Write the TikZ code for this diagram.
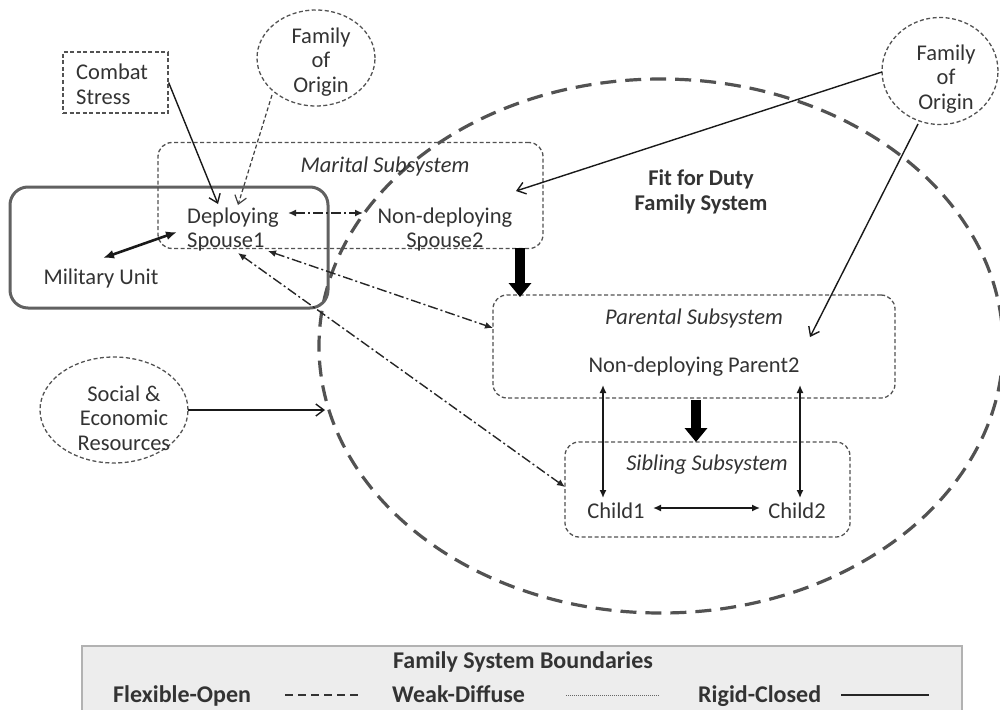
\documentclass[tikz,border=0pt]{standalone}
\usepackage{fontspec}
\setmainfont{Carlito}
\usetikzlibrary{arrows.meta,shapes.geometric}
\begin{document}
\begin{tikzpicture}[x=1pt,y=-1pt,
  txt/.style={font=\fontsize{22.5}{24.5}\selectfont, align=center, inner sep=0pt, text=black!80},
  itxt/.style={txt, font=\fontsize{22.5}{24.5}\selectfont\itshape},
  btxt/.style={txt, font=\fontsize{22.5}{24.5}\selectfont\bfseries},
  legtxt/.style={font=\fontsize{24}{26}\selectfont\bfseries, inner sep=0pt, text=black!80},
  weak/.style={draw=black!68, line width=1.3pt, dash pattern=on 4pt off 2.5pt},
  subsys/.style={weak, rectangle, rounded corners=14pt, inner sep=0pt},
  bubble/.style={weak, ellipse, inner sep=0pt},
  rigid/.style={draw=black!62, line width=3pt, rectangle, rounded corners=18pt, inner sep=0pt},
  flexible/.style={draw=black!68, line width=3.2pt, dash pattern=on 16pt off 9pt},
  dashdot/.style={draw=black!85, line width=1.4pt, dash pattern=on 10pt off 3pt on 2pt off 3pt,
     {Latex[length=8pt,width=7pt]}-{Latex[length=8pt,width=7pt]}},
  twoway/.style={draw=black!90, line width=1.5pt, {Latex[length=8pt,width=7pt]}-{Latex[length=8pt,width=7pt]}},
  thin/.style={draw=black!90, line width=1.4pt, -{Straight Barb[length=8pt,width=12pt]}},
  thinweak/.style={draw=black!75, line width=1.2pt, dash pattern=on 4pt off 2.5pt, -{Straight Barb[length=8pt,width=12pt]}},
  block/.style={draw=black, line width=10pt, -{Triangle[length=14pt,width=22pt]}},
]
\useasboundingbox (0,0) rectangle (1000,709);

% outer flexible boundary
\node[ellipse, flexible, minimum width=684pt, minimum height=534pt, inner sep=0pt] (family) at (661,346) {};
\node[btxt] (fit) at (701,192) {Fit for Duty\\Family System};

% boxes and bubbles
\node[weak, rectangle, minimum width=105pt, minimum height=61pt, inner sep=0pt] (combat) at (115.5,82.5) {};
\node[txt, align=left, anchor=west] (combattxt) at (76,84.5) {Combat\\Stress};

\node[bubble, minimum width=118pt, minimum height=96pt] (fooL) at (316,58) {};
\node[txt] (fooLtxt) at (321,62) {Family\\of\\Origin};

\node[bubble, minimum width=116pt, minimum height=107pt] (fooR) at (940,71) {};
\node[txt] (fooRtxt) at (946,79) {Family\\of\\Origin};

\node[bubble, minimum width=148pt, minimum height=106pt] (social) at (114,410) {};
\node[txt] (socialtxt) at (124,418) {Social \&\\Economic\\Resources};

\node[rigid, minimum width=318pt, minimum height=121pt] (military) at (169,247.5) {};
\node[txt] (miltxt) at (101,278) {Military Unit};

\node[subsys, minimum width=385pt, minimum height=106pt] (marital) at (350.5,195.5) {};
\node[itxt] (maritaltxt) at (385,166) {Marital Subsystem};
\node[txt, align=left, anchor=west] (sp1) at (187,229.5) {Deploying\\Spouse1};
\node[txt] (sp2) at (445,229.5) {Non-deploying\\Spouse2};

\node[subsys, minimum width=402pt, minimum height=103pt] (parental) at (694,346.5) {};
\node[itxt] (parentaltxt) at (694,318) {Parental Subsystem};
\node[txt] (parent2) at (694,367) {Non-deploying Parent2};

\node[subsys, minimum width=285pt, minimum height=95pt] (sibling) at (707.5,489.5) {};
\node[itxt] (siblingtxt) at (707,465) {Sibling Subsystem};
\node[txt] (child1) at (616,511) {Child1};
\node[txt] (child2) at (797,511) {Child2};

% connector end points
\coordinate (c1) at (218,204);
\coordinate (f1a) at (272,95);
\coordinate (f1b) at (238,205);
\coordinate (f2a) at (882,72);
\coordinate (f2b) at (516,191);
\coordinate (f3a) at (918,124);
\coordinate (f3b) at (810,337);
\coordinate (s1) at (188,410);
\coordinate (s2) at (325,410);
\coordinate (m1) at (103,258);
\coordinate (m2) at (177,232);
\coordinate (d1) at (288,213);
\coordinate (d2) at (363,213);
\coordinate (e1) at (268,251);
\coordinate (e2) at (493,328);
\coordinate (g1) at (238,253);
\coordinate (g2) at (565,487);
\coordinate (p1a) at (603,385);
\coordinate (p1b) at (603,498);
\coordinate (p2a) at (800,385);
\coordinate (p2b) at (800,498);
\coordinate (h1) at (653,508);
\coordinate (h2) at (760,508);
\coordinate (t1) at (520,248);
\coordinate (t2) at (520,297);
\coordinate (u1) at (696,400);
\coordinate (u2) at (696,442);

% connectors
\draw[thin] (combat.east) -- (c1);
\draw[thinweak] (f1a) -- (f1b);
\draw[thin] (f2a) -- (f2b);
\draw[thin] (f3a) -- (f3b);
\draw[thin] (s1) -- (s2);
\draw[twoway, line width=2.6pt, {Latex[length=11pt,width=9pt]}-{Latex[length=11pt,width=9pt]}] (m1) -- (m2);
\draw[dashdot] (d1) -- (d2);
\draw[dashdot] (e1) -- (e2);
\draw[dashdot] (g1) -- (g2);
\draw[twoway] (p1a) -- (p1b);
\draw[twoway] (p2a) -- (p2b);
\draw[twoway] (h1) -- (h2);
\draw[block] (t1) -- (t2);
\draw[block] (u1) -- (u2);

% legend
\path[fill=black!7, draw=black!30, line width=1.2pt] (82,646) rectangle (962,716);
\node[legtxt] (legtitle) at (523,662) {Family System Boundaries};
\node[legtxt, anchor=base west] (lflex) at (113,702) {Flexible-Open};
\node[legtxt, anchor=base west] (lweak) at (392,702) {Weak-Diffuse};
\node[legtxt, anchor=base west] (lrigid) at (698,702) {Rigid-Closed};
\coordinate (la1) at (285,695); \coordinate (la2) at (361,695);
\coordinate (lb1) at (566,695); \coordinate (lb2) at (659,695);
\coordinate (lc1) at (841,695); \coordinate (lc2) at (929,695);
\draw[black!80, line width=2.6pt, dash pattern=on 8pt off 5pt] (la1) -- (la2);
\draw[black!60, line width=0.9pt, dash pattern=on 1pt off 1pt] (lb1) -- (lb2);
\draw[black!85, line width=2.8pt] (lc1) -- (lc2);
\end{tikzpicture}
\end{document}
